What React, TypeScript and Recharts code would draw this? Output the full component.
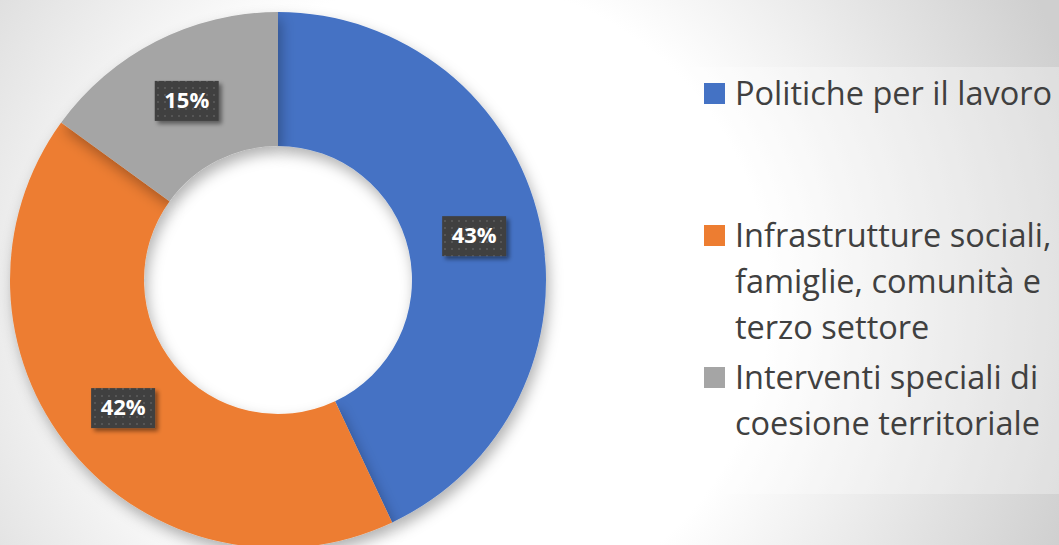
import React from "react";
import { PieChart, Pie, Cell, Legend } from "recharts";

const categories = [
  "Politiche per il lavoro",
  "Infrastrutture sociali, famiglie, comunità e terzo settore",
  "Interventi speciali di coesione territoriale",
];
const values = [43, 42, 15];
const colors = ["#4472C4", "#ED7D31", "#A5A5A5"];
// line breaks as shown in the legend
const legendLines = [
  ["Politiche per il lavoro"],
  ["Infrastrutture sociali,", "famiglie, comunità e", "terzo settore"],
  ["Interventi speciali di", "coesione territoriale"],
];

const data = categories.map((name, i) => ({ name, value: values[i] }));

const RAD = Math.PI / 180;

const renderLabel = (props: any) => {
  const { cx, cy, midAngle, innerRadius, outerRadius, percent } = props;
  const r = (innerRadius + outerRadius) / 2;
  const x = cx + r * Math.cos(-midAngle * RAD);
  const y = cy + r * Math.sin(-midAngle * RAD);
  return (
    <g>
      <rect
        x={x - 32}
        y={y - 20}
        width={64}
        height={40}
        fill="url(#dots)"
        filter="url(#boxShadow)"
      />
      <text
        x={x}
        y={y + 1}
        textAnchor="middle"
        dominantBaseline="middle"
        fill="#fff"
        fontFamily="'Open Sans', sans-serif"
        fontWeight={700}
        fontSize={22}
      >
        {Math.round(percent * 100)}%
      </text>
    </g>
  );
};

const rowTops = [26, 168, 310];

const renderLegend = () => (
  <div
    style={{
      position: "relative",
      width: 390,
      height: 427,
      background: "rgba(255,255,255,0.3)",
      fontFamily: "'Open Sans', sans-serif",
      fontSize: 32.5,
      color: "#404040",
    }}
  >
    {legendLines.map((lines, i) => (
      <div key={i}>
        <div
          style={{
            position: "absolute",
            left: 35,
            top: rowTops[i] - 10,
            width: 21,
            height: 21,
            background: colors[i],
          }}
        />
        {lines.map((line, j) => (
          <div
            key={j}
            style={{
              position: "absolute",
              left: 66,
              top: rowTops[i] + j * 46 - 23,
              height: 46,
              lineHeight: "46px",
              whiteSpace: "nowrap",
            }}
          >
            {line}
          </div>
        ))}
      </div>
    ))}
  </div>
);

export default function App() {
  return (
    <div
      style={{
        position: "absolute",
        left: 0,
        top: 0,
        width: 1059,
        height: 545,
        overflow: "hidden",
        background:
          "radial-gradient(circle at 450px 300px, #ffffff 0px, #ffffff 320px, #cfcfcf 660px)",
      }}
    >
      <svg width={0} height={0} style={{ position: "absolute" }}>
        <defs>
          <pattern id="dots" width={7} height={7} patternUnits="userSpaceOnUse">
            <rect width={7} height={7} fill="#404040" />
            <rect x={3} y={3} width={2} height={2} fill="#575757" />
          </pattern>
          <filter id="boxShadow" x="-30%" y="-30%" width="160%" height="160%">
            <feDropShadow dx={3} dy={3} stdDeviation={2} floodColor="#000" floodOpacity={0.45} />
          </filter>
          <filter id="pieShadow" x="-20%" y="-20%" width="140%" height="140%">
            <feDropShadow dx={3} dy={7} stdDeviation={7} floodColor="#000" floodOpacity={0.3} />
          </filter>
        </defs>
      </svg>
      <PieChart width={1059} height={545} margin={{ top: 0, right: 0, bottom: 0, left: 0 }}>
        <Pie
          data={data}
          dataKey="value"
          nameKey="name"
          cx={278}
          cy={280}
          innerRadius={134}
          outerRadius={268}
          startAngle={90}
          endAngle={-270}
          stroke="none"
          label={renderLabel}
          labelLine={false}
          isAnimationActive={false}
        >
          {data.map((d, i) => (
            <Cell key={d.name} fill={colors[i]} filter="url(#pieShadow)" />
          ))}
        </Pie>
        <Legend
          layout="vertical"
          align="right"
          verticalAlign="top"
          content={renderLegend}
          wrapperStyle={{ left: 669, top: 67, width: 390, height: 427 }}
        />
      </PieChart>
    </div>
  );
}
